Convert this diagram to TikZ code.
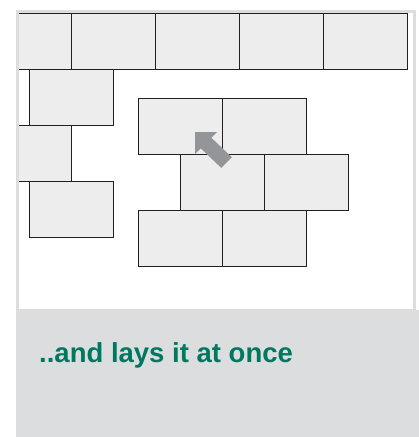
\documentclass[tikz,border=0pt]{standalone}
\usepackage{fontspec}
\setmainfont{Liberation Sans}
\definecolor{tilefill}{HTML}{EDEDED}
\definecolor{tileline}{HTML}{231F20}
\definecolor{framegray}{HTML}{DDDDDD}
\definecolor{boxgray}{HTML}{DCDDDF}
\definecolor{arrowgray}{HTML}{939598}
\definecolor{labelgreen}{HTML}{00785F}
\begin{document}
\begin{tikzpicture}[x=1pt,y=-1pt,
  tile/.style={draw=tileline, fill=tilefill, line width=0.9pt, rectangle,
    minimum width=84pt, minimum height=56pt, inner sep=0pt, anchor=north west},
  label/.style={text=labelgreen, font=\fontsize{27.5}{30}\selectfont\bfseries, anchor=base west, inner sep=0pt}]
\useasboundingbox (0,0) rectangle (419,437);
% frame
\fill[white] (0,0) rectangle (419,437);
\draw[framegray, line width=3pt, fill=white] (17.5,11.5) rectangle (414.5,310);
\fill[boxgray] (16,310) rectangle (419,437);
% tiles clipped to frame
\begin{scope}
\clip (19,13) rectangle (413,309);
\node[tile] (a1) at (-13,13) {};
\node[tile] (a2) at (71,13) {};
\node[tile] (a3) at (155,13) {};
\node[tile] (a4) at (239,13) {};
\node[tile] (a5) at (323,13) {};
\node[tile] (b1) at (29,69) {};
\node[tile] (c1) at (-13,125) {};
\node[tile] (d1) at (29,181) {};
\end{scope}
\draw[tileline, line width=0.9pt] (a5.north east) -- (a5.south east);
% centre group
\node[tile] (e1) at (138,98) {};
\node[tile] (e2) at (222,98) {};
\node[tile] (f1) at (180,154) {};
\node[tile] (f2) at (264,154) {};
\node[tile] (g1) at (138,210) {};
\node[tile] (g2) at (222,210) {};
% arrow
\fill[arrowgray] (231.8,157.2) -- (211.3,137.7) -- (217,132) -- (195,132) -- (195,154) -- (200.7,148.3) -- (221.2,167.8) -- cycle;
% label
\node[label] (lbl) at (39,362.7) {..and lays it at once};
\end{tikzpicture}
\end{document}
